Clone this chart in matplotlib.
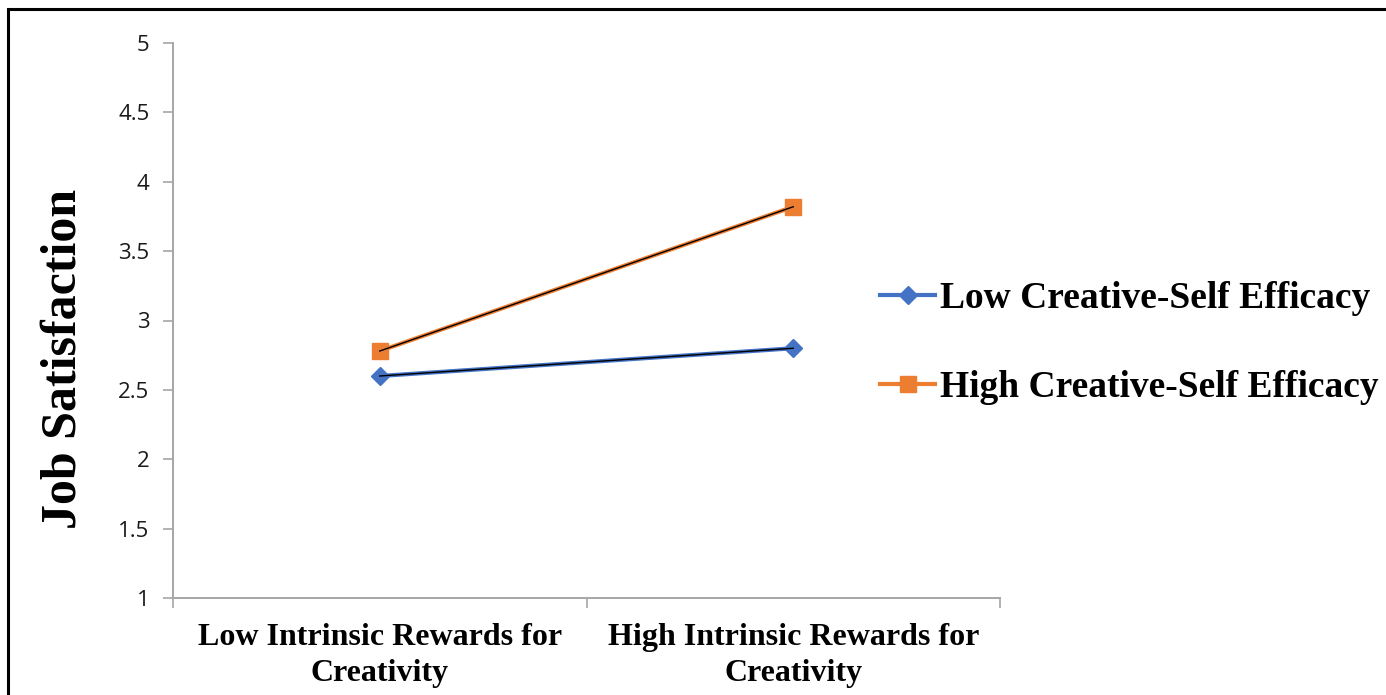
import matplotlib

matplotlib.use("Agg")
import matplotlib.pyplot as plt
from matplotlib.patches import Rectangle

categories = ["Low Intrinsic Rewards for\nCreativity", "High Intrinsic Rewards for\nCreativity"]
low_cse = [2.6, 2.8]
high_cse = [2.78, 3.82]
series_names = ["Low Creative-Self Efficacy", "High Creative-Self Efficacy"]
y_ticks = [1, 1.5, 2, 2.5, 3, 3.5, 4, 4.5, 5]

W, H = 1386, 695
fig = plt.figure(figsize=(W / 100, H / 100), dpi=100)
fig.patch.set_facecolor("white")

# frame that runs off the right and bottom edges
fig.patches.append(
    Rectangle((8 / W, -0.05), 1.1, 1 - 9 / H + 0.05, transform=fig.transFigure,
              fill=False, edgecolor="black", linewidth=2.2)
)

ax = fig.add_axes([173 / W, 1 - 598 / H, (1000 - 173) / W, (598 - 43) / H])

serif = ["Liberation Serif", "DejaVu Serif"]
blue = "#4472C4"
orange = "#ED7D31"
x = list(range(len(categories)))

ax.plot(x, low_cse, color=blue, linewidth=3, marker="D", markersize=9,
        markerfacecolor=blue, markeredgecolor=blue, label=series_names[0], zorder=3)
ax.plot(x, low_cse, color="black", linewidth=1.0, zorder=4)
ax.plot(x, high_cse, color=orange, linewidth=3, marker="s", markersize=11,
        markerfacecolor=orange, markeredgecolor=orange, label=series_names[1], zorder=3)
ax.plot(x, high_cse, color="black", linewidth=1.0, zorder=4)

ax.set_xlim(-0.5, 1.5)
ax.set_ylim(1, 5)
ax.set_yticks(y_ticks)
ax.set_yticklabels([f"{v:g}" for v in y_ticks], fontsize=16, family="Open Sans", color="#1a1a1a")

ax.set_xticks(x)
ax.set_xticklabels(categories, fontsize=23, family=serif, fontweight="bold", linespacing=1.3)
ax.tick_params(axis="x", length=0, pad=18)
ax.set_xticks([-0.5, 0.5, 1.5], minor=True)
ax.tick_params(axis="x", which="minor", length=7, color="#A6A6A6", width=1.2, direction="out")
ax.tick_params(axis="y", length=7, color="#A6A6A6", width=1.2, direction="out", pad=10)

for side in ("top", "right"):
    ax.spines[side].set_visible(False)
for side in ("left", "bottom"):
    ax.spines[side].set_color("#A6A6A6")
    ax.spines[side].set_linewidth(1.4)

ax.set_ylabel("Job Satisfaction", fontsize=36, family=serif, fontweight="bold")
ax.yaxis.set_label_coords(-0.105, 0.43)

ax.legend(loc="center left", bbox_to_anchor=(880 / W, 1 - 343 / H),
          bbox_transform=fig.transFigure, frameon=False, borderpad=0, borderaxespad=0,
          prop={"family": serif, "weight": "bold", "size": 27},
          handlelength=1.47, handletextpad=0.13, labelspacing=1.46)

fig.savefig("out.png", dpi=100, facecolor="white")
